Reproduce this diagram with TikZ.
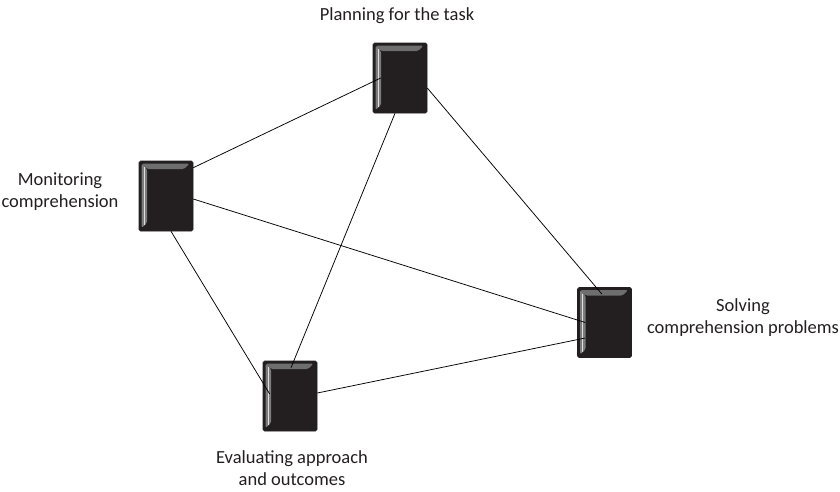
\documentclass[tikz,border=0pt]{standalone}
\usepackage{fontspec}
\setmainfont{Carlito}
\usetikzlibrary{calc}
\definecolor{boxfill}{HTML}{231F20}
\definecolor{bevtop}{HTML}{6E6E6E}
\definecolor{bevleft}{HTML}{7C7C7C}
\definecolor{txt}{HTML}{231F20}
\tikzset{
  bevbox/.style={fill=boxfill, draw=boxfill, line width=0.6pt, rounded corners=1.5pt,
    minimum width=54pt, minimum height=70pt, inner sep=0pt,
    path picture={
      \fill[bevtop] ([xshift=2.5pt,yshift=-2.5pt]path picture bounding box.north west)
        -- ([xshift=-3.5pt,yshift=-2.5pt]path picture bounding box.north east)
        -- ([xshift=-9pt,yshift=-8pt]path picture bounding box.north east)
        -- ([xshift=8pt,yshift=-8pt]path picture bounding box.north west) -- cycle;
      \fill[bevleft] ([xshift=2.5pt,yshift=-2.5pt]path picture bounding box.north west)
        -- ([xshift=8pt,yshift=-8pt]path picture bounding box.north west)
        -- ([xshift=8pt,yshift=8pt]path picture bounding box.south west)
        -- ([xshift=2.5pt,yshift=3pt]path picture bounding box.south west) -- cycle;
      \draw[white!75!gray, line width=0.5pt] ([xshift=5.2pt,yshift=-6pt]path picture bounding box.north west)
        -- ([xshift=5.2pt,yshift=6pt]path picture bounding box.south west);
    }},
  lbl/.style={align=center, text=txt, font=\fontsize{18.5}{22}\selectfont, inner sep=0pt},
  conn/.style={draw=black, line width=0.75pt}
}
\begin{document}
\begin{tikzpicture}[x=1pt,y=-1pt]
\useasboundingbox (0,0) rectangle (840,491);
\node[bevbox] (plan) at (400,78) {};
\node[bevbox] (mon) at (166,196) {};
\node[bevbox] (solv) at (604.5,322.5) {};
\node[bevbox] (eval) at (290,396) {};
\draw[conn] ([yshift=-7pt]mon.north east) -- ([xshift=8pt]plan.west);
\draw[conn] ([yshift=-3pt]mon.east) -- ([xshift=8pt]solv.west);
\draw[conn] ([xshift=5pt]mon.south) -- ([xshift=7pt,yshift=2pt]eval.west);
\draw[conn] ([yshift=-10pt]plan.east) -- ([xshift=-2.5pt,yshift=-7pt]solv.north);
\draw[conn] ([xshift=-5pt]plan.south) -- ([xshift=1pt,yshift=-7pt]eval.north);
\draw[conn] ([yshift=3pt]eval.east) -- ([xshift=8pt,yshift=-15.5pt]solv.west);
\node[lbl] (lplan) at (397,16) {Planning for the task};
\node[lbl] (lmon) at (60,192) {Monitoring\\comprehension};
\node[lbl] (lsolv) at (743,318) {Solving\\comprehension problems};
\node[lbl] (leval) at (292,468) {Evaluating approach\\and outcomes};
\end{tikzpicture}
\end{document}
